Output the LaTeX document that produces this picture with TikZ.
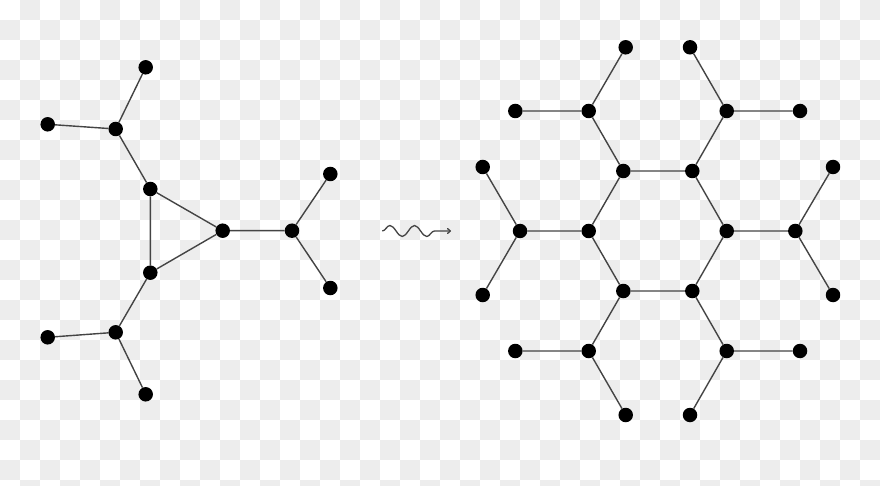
\documentclass[tikz,border=0pt]{standalone}
\usepackage{tikz}
\usetikzlibrary{arrows.meta,decorations.pathmorphing}
\pgfdeclarelayer{checker}
\pgfdeclarelayer{background}
\pgfsetlayers{checker,background,main}
\definecolor{checkgray}{HTML}{EDEDED}
\definecolor{edgegray}{HTML}{444444}
\tikzset{
  dot/.style={circle,fill=black,inner sep=0pt,minimum size=14.5pt},
  edge/.style={draw=edgegray,line width=1.4pt},
  squig/.style={draw=edgegray,line width=1.3pt,decorate,
    decoration={snake,segment length=24.5pt,amplitude=5.5pt,post length=8pt}},
}

\begin{document}
\begin{tikzpicture}[x=1pt,y=-1pt,>={To[length=4pt,width=6pt]}]
  \useasboundingbox (0,0) rectangle (880,486);
  % checkerboard behind everything
  \begin{pgfonlayer}{checker}
    \fill[white] (0,0) rectangle (880,486);
    \foreach \j in {0,...,24}{
      \pgfmathtruncatemacro{\off}{mod(\j+1,2)*20}
      \foreach \i in {0,40,...,860}
        \fill[checkgray] (\i+\off,\j*20) rectangle ++(20,20);
    }
  \end{pgfonlayer}

  % left graph
  \node[dot] (lt) at (145.7,67.3) {};
  \node[dot] (ll) at (47.7,124.3) {};
  \node[dot] (lj) at (115.7,129) {};
  \node[dot] (ta) at (150.3,189) {};
  \node[dot] (tb) at (222.7,230.7) {};
  \node[dot] (tc) at (150.3,272.7) {};
  \node[dot] (bj) at (115.7,332.3) {};
  \node[dot] (bl) at (47.7,337.3) {};
  \node[dot] (bb) at (145.7,394.3) {};
  \node[dot] (rj) at (292,230.7) {};
  \node[dot] (rt) at (330.3,174) {};
  \node[dot] (rb) at (330.3,288) {};
  \begin{pgfonlayer}{background}
    \draw[edge] (lj) -- (lt) (lj) -- (ll) (lj) -- (ta);
    \draw[edge] (ta) -- (tb) -- (tc) -- (ta);
    \draw[edge] (tc) -- (bj) (bj) -- (bl) (bj) -- (bb);
    \draw[edge] (tb) -- (rj) (rj) -- (rt) (rj) -- (rb);
  \end{pgfonlayer}

  % squiggly arrow
  \coordinate (sqs) at (382.3,231);
  \coordinate (sqe) at (451,231);
  \draw[squig,->] (sqs) -- (sqe);

  % right graph, clipped at its right edge
  \begin{scope}
    \clip (0,0) rectangle (840,486);
    \node[dot] (h1) at (623.3,171) {};
    \node[dot] (h2) at (692.3,171) {};
    \node[dot] (h3) at (726.7,231) {};
    \node[dot] (h4) at (692.3,291) {};
    \node[dot] (h5) at (623.3,291) {};
    \node[dot] (h6) at (588.7,231) {};
    \node[dot] (jnw) at (588.7,111) {};
    \node[dot] (jne) at (726.7,111) {};
    \node[dot] (jw) at (520,231) {};
    \node[dot] (je) at (795.3,231) {};
    \node[dot] (jsw) at (588.7,351) {};
    \node[dot] (jse) at (726.7,351) {};
    \node[dot] (nw1) at (625.7,47.3) {};
    \node[dot] (nw2) at (515.3,111) {};
    \node[dot] (ne1) at (690,47.3) {};
    \node[dot] (ne2) at (800,111) {};
    \node[dot] (w1) at (482.7,167) {};
    \node[dot] (w2) at (482.7,295) {};
    \node[dot] (e1) at (833,167) {};
    \node[dot] (e2) at (833,295) {};
    \node[dot] (sw1) at (515.3,351) {};
    \node[dot] (sw2) at (625.7,415) {};
    \node[dot] (se1) at (800,351) {};
    \node[dot] (se2) at (690,415) {};
  \end{scope}
  \begin{pgfonlayer}{background}
    \draw[edge] (h1) -- (h2) -- (h3) -- (h4) -- (h5) -- (h6) -- (h1);
    \draw[edge] (h1) -- (jnw) (jnw) -- (nw1) (jnw) -- (nw2);
    \draw[edge] (h2) -- (jne) (jne) -- (ne1) (jne) -- (ne2);
    \draw[edge] (h6) -- (jw) (jw) -- (w1) (jw) -- (w2);
    \draw[edge] (h3) -- (je) (je) -- (e1) (je) -- (e2);
    \draw[edge] (h5) -- (jsw) (jsw) -- (sw1) (jsw) -- (sw2);
    \draw[edge] (h4) -- (jse) (jse) -- (se1) (jse) -- (se2);
  \end{pgfonlayer}
\end{tikzpicture}
\end{document}
